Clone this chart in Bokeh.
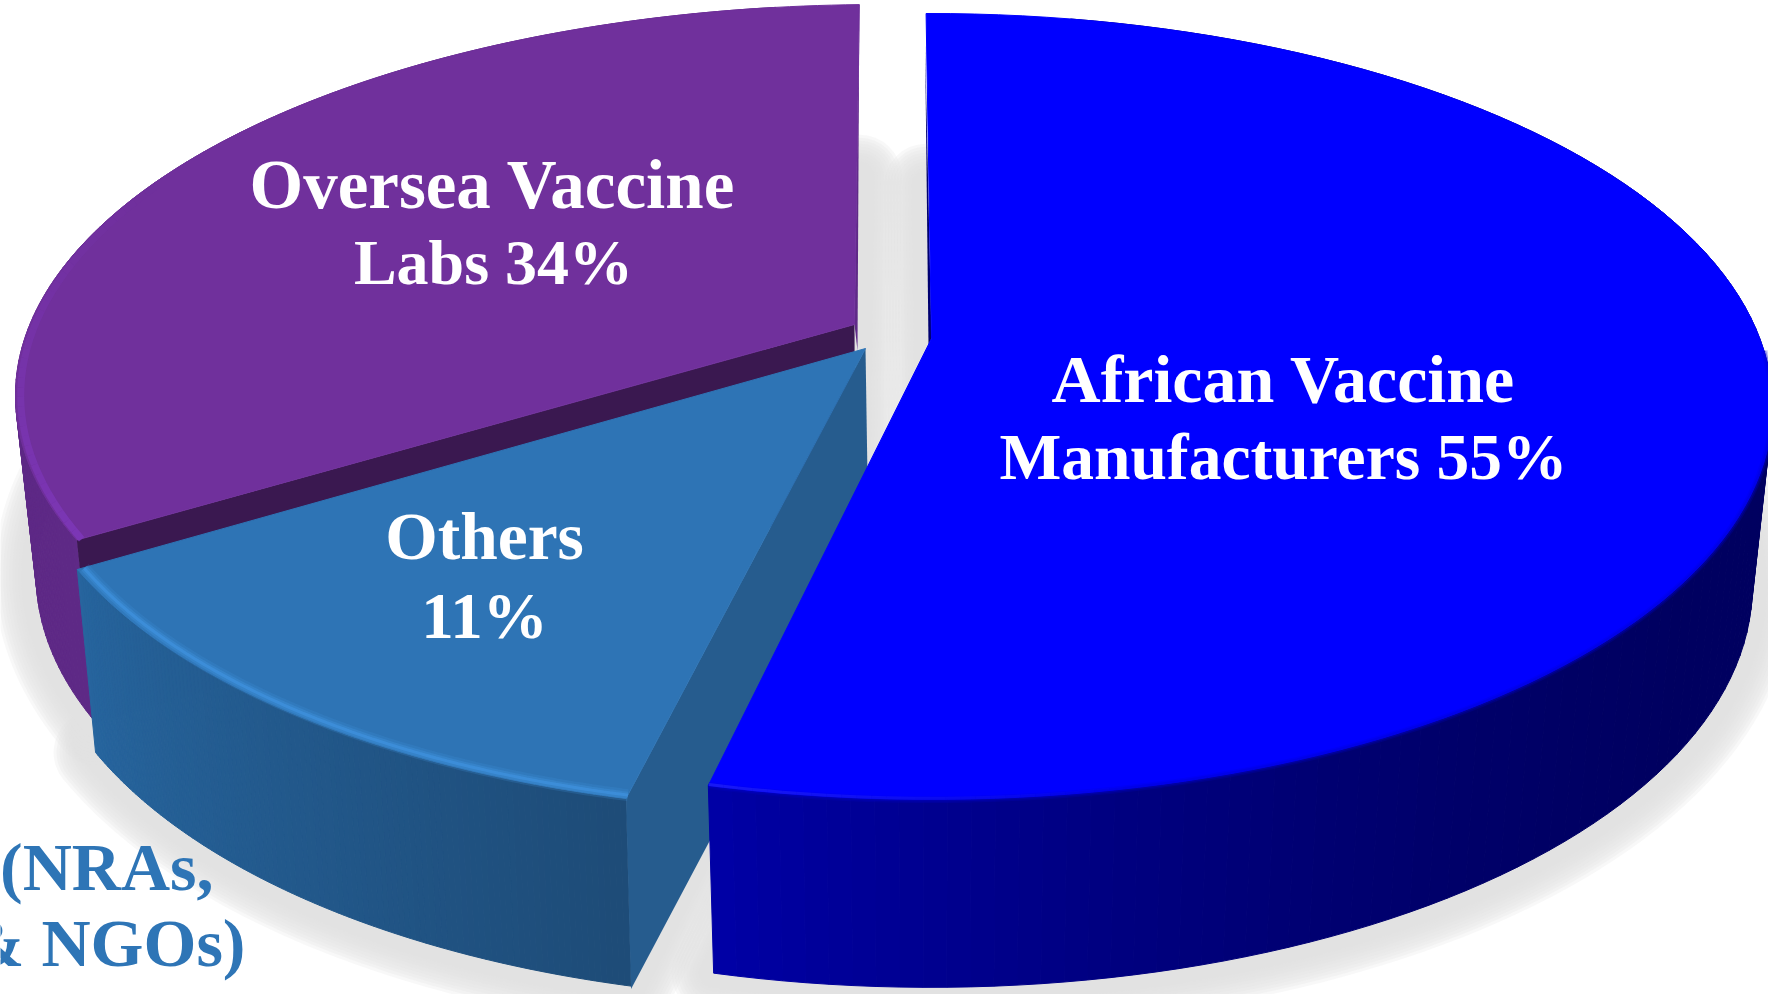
import numpy as np
from bokeh.core.properties import value
from bokeh.embed import file_html
from bokeh.models import ColumnDataSource, Range1d
from bokeh.plotting import figure
from bokeh.resources import INLINE

# Slice shares in percent, clockwise from twelve o'clock
categories = ["African Vaccine Manufacturers", "Others", "Oversea Vaccine Labs"]
shares = [55, 11, 34]
top_colors = ["#0000ff", "#2e74b5", "#70309c"]
cut_colors = ["#000070", "#265c8e", "#3a1850"]
wall_near = ["#0000a5", "#1e4c78", "#5c2884"]
wall_far = ["#000060", "#27659e", "#5f2a87"]

# text, centre x, baseline y, font size
slice_labels = [
    ("African Vaccine", 1283, 378, 68),
    (f"Manufacturers {shares[0]}%", 1283, 456, 65.5),
    ("Others", 484, 536, 67.5),
    (f"{shares[1]}%", 484, 615, 65),
    ("Oversea Vaccine", 492, 184, 69),
    (f"Labs {shares[2]}%", 493, 262, 64),
]
outer_lines = ["(NRAs,", "& NGOs)"]

# Exploded slices sit on their own ellipse: centre x/y, half axes, apex, and the
# ellipse parameter range that the slice's sweep is spread over
ellipses = [(930, 406, 842, 393), (835, 420, 820, 391), (880, 395, 865, 391)]
apexes = [(931, 338), (865, 348), (854, 324)]
param_spans = [(-0.3, 195.3), (194.8, 247.6), (248.3, 358.6)]
edges = np.concatenate([[0], np.cumsum(shares)]) * 3.6


def rim(i, deg, r=1.0):
    cx, cy, a, b = ellipses[i]
    lo, hi = param_spans[i]
    phi = np.radians(lo + (np.asarray(deg) - edges[i]) / (edges[i + 1] - edges[i]) * (hi - lo))
    return cx + r * a * np.sin(phi), cy - r * b * np.cos(phi)


def lower(i, x, y):
    # The underside of the disc: slightly narrower, further down
    cx, cy, _, _ = ellipses[i]
    return cx + 0.976 * (np.asarray(x) - cx), cy + 180 + 1.02 * (np.asarray(y) - cy)


p = figure(width=1768, height=994, x_range=Range1d(0, 1768), y_range=Range1d(994, 0),
           output_backend="svg", toolbar_location=None, min_border=0)
p.axis.visible = False
p.grid.visible = False
p.outline_line_color = None
p.background_fill_color = "#ffffff"
p.border_fill_color = "#ffffff"

arcs = [np.linspace(edges[i], edges[i + 1], 120) for i in range(3)]

# Soft ground shadow: stacked outlines, widest first, building up to solid grey
for i in range(3):
    ax, ay = rim(i, arcs[i])
    bx, by = lower(i, np.r_[apexes[i][0], ax], np.r_[apexes[i][1], ay])
    for w in np.arange(84, 24, -6):
        p.patch(bx, by, fill_color="#e3e3e3", fill_alpha=1.0, line_color="#e3e3e3", line_alpha=0.24,
                line_width=float(w), line_join="round")

# Draw back to front: each slice covers the one behind it
for i in [2, 1, 0]:
    ax, ay = rim(i, arcs[i])
    bx, by = lower(i, ax, ay)
    ax0, ay0 = apexes[i]
    t = np.linspace(0, 1, len(ax) - 1)
    if i == 0:
        t = np.clip((t - 0.55) / 0.45, 0, 1) ** 2
    c_far = np.array([int(wall_far[i][j:j + 2], 16) for j in (1, 3, 5)])
    c_near = np.array([int(wall_near[i][j:j + 2], 16) for j in (1, 3, 5)])
    if i == 1:
        shades = c_near + (c_far - c_near) * t[:, None]
    else:
        shades = c_far + (c_near - c_far) * t[:, None]
    # The wall facets nearest the back edges are hidden behind the top face
    first, last = {0: (6, len(t)), 1: (0, len(t)), 2: (0, len(t) - 6)}[i]
    quads = ColumnDataSource(dict(
        xs=[[ax[k], ax[k + 1], bx[k + 1], bx[k]] for k in range(first, last)],
        ys=[[ay[k], ay[k + 1], by[k + 1], by[k]] for k in range(first, last)],
        c=["#%02x%02x%02x" % tuple(int(v) for v in s) for s in shades[first:last]],
    ))
    p.patches("xs", "ys", fill_color="c", line_color="c", line_width=1, source=quads)

    if i == 0:
        # Barely visible cut face behind the slice's left edge
        p.patch([ax[0] - 1, ax0, ax0 - 3, ax[0] - 1], [ay[0] + 30, ay0, ay0 + 6, ay[0] + 30],
                fill_color=cut_colors[i], line_color=None)
    elif i == 1:
        p.patch([ax[0], ax0, ax0 + 3, bx[0]], [ay[0], ay0, ay0 + 193, by[0] + 3],
                fill_color=cut_colors[i], line_color=None)
    else:
        bax, bay = lower(i, ax0, ay0)
        p.patch([ax[0], ax0, bax, bx[0]], [ay[0], ay0, bay, by[0]],
                fill_color=cut_colors[i], line_color=None)
        p.patch([ax[-1], ax0, ax0 + 3, ax[-1]], [ay[-1], ay0, ay0 + 26, ay[-1]],
                fill_color=wall_far[i], line_color=None)

    p.patch(np.r_[ax0, ax], np.r_[ay0, ay], fill_color=top_colors[i], line_color=top_colors[i],
            line_width=1)

    # Bevel along the outer rim of each top face
    if i == 0:
        hx, hy = rim(i, arcs[i][50:])
        for width, alpha in [(7, 0.2), (4, 0.35)]:
            p.line(hx, hy, line_color="#0000d0", line_width=width, line_alpha=alpha)
        sweep = np.linspace(edges[1] - 30, edges[1], 30)
        hx, hy = rim(i, sweep, 0.997)
        fade = np.linspace(0.0, 0.5, len(hx) - 1)
        p.multi_line([[hx[k], hx[k + 1]] for k in range(len(fade))],
                     [[hy[k], hy[k + 1]] for k in range(len(fade))],
                     line_color="#3030ff", line_width=3, line_alpha=fade.tolist())
    if i == 1:
        hx, hy = rim(i, arcs[i], 0.991)
        for width, alpha in [(12, 0.22), (7, 0.4), (3, 0.8)]:
            p.line(hx, hy, line_color="#3f90dc", line_width=width, line_alpha=alpha)
    if i == 2:
        sweep = np.linspace(edges[2], edges[2] + 62, 40)
        hx, hy = rim(i, sweep, 0.994)
        fade = np.linspace(0.75, 0.0, len(hx) - 1)
        p.multi_line([[hx[k], hx[k + 1]] for k in range(len(fade))],
                     [[hy[k], hy[k + 1]] for k in range(len(fade))],
                     line_color="#7f38bd", line_width=7, line_alpha=fade.tolist())

serif = value("Liberation Serif")
for text, x, y, size in slice_labels:
    p.text([x], [y], text=[text], text_color="#ffffff", text_font=serif,
           text_font_style="bold", text_font_size=f"{size}px", text_align="center",
           text_baseline="alphabetic")

p.text([213, 245], [866, 942], text=outer_lines, text_color="#2e75b6", text_font=serif,
       text_font_style="bold", text_font_size="68px", text_align="right",
       text_baseline="alphabetic")

open("out.html", "w").write(file_html(p, INLINE))
